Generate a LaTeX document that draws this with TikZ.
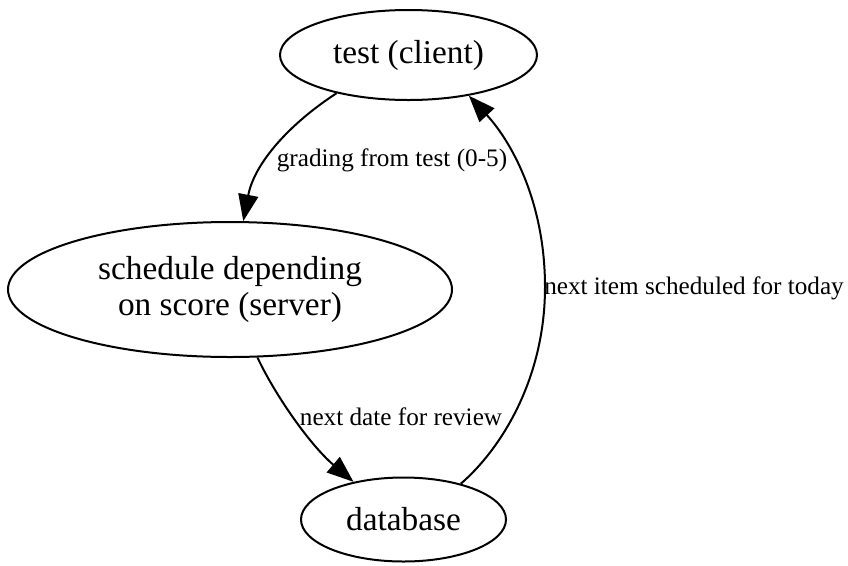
\documentclass[tikz,border=0pt]{standalone}
\usepackage{fontspec}
\setmainfont{Liberation Serif}
\usetikzlibrary{shapes.geometric,arrows.meta}

\tikzset{
  state/.style={ellipse, draw, line width=1.5pt, inner sep=0pt, align=center,
                font=\fontsize{25}{26.5}\selectfont},
  edgelabel/.style={inner sep=0pt, font=\fontsize{18.9}{21}\selectfont},
  flow/.style={line width=1.5pt, -{Triangle[length=20pt,width=15pt]}},
}

\begin{document}
\begin{tikzpicture}[x=0.75pt, y=-0.75pt]
  \useasboundingbox (0,0) rectangle (848,565);

  % states
  \node[state, minimum width=192.75pt, minimum height=67.5pt] (test) at (408.5,55) {test (client)};
  \node[state, minimum width=333pt, minimum height=101.25pt] (sched) at (230,289.5)
       {schedule depending\\on score (server)};
  \node[state, minimum width=153.75pt, minimum height=63pt] (db) at (403.5,519.5) {database};

  % transitions
  \draw[flow] (test.208) .. controls (295,120) and (255,160) .. (sched.79.4);
  \draw[flow] (sched.292.4) .. controls (275,395) and (310,445) .. (db.143.8);
  \coordinate (bend) at (545,287);
  \draw[flow] (db.32) .. controls (500,450) and (545,380) .. (bend)
              .. controls (545,200) and (510,140) .. (test.326.3);

  % transition labels
  \node[edgelabel] (l1) at (392,160) {grading from test (0-5)};
  \node[edgelabel] (l2) at (401,417) {next date for review};
  \node[edgelabel] (l3) at (694,288) {next item scheduled for today};
\end{tikzpicture}
\end{document}
